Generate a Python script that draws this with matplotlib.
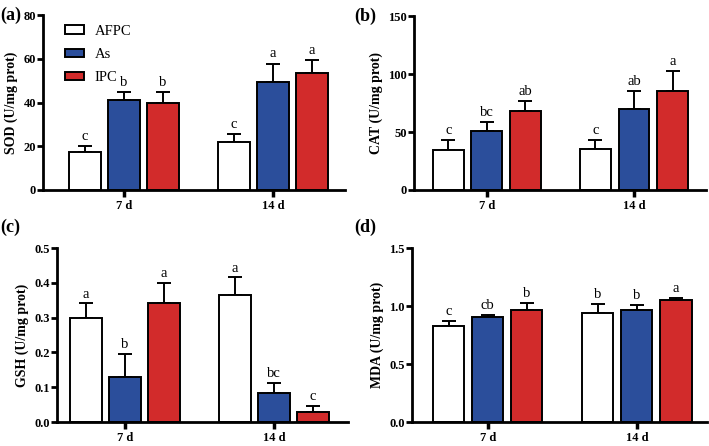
import matplotlib.pyplot as plt
import matplotlib.patches as mpatches
import numpy as np

plt.rcParams['font.family'] = ['Liberation Serif', 'DejaVu Serif']

days = ["7 d", "14 d"]
groups = ["AFPC", "As", "IPC"]
colors = ["white", "#2b4e9b", "#d22b2b"]

# means and upper error (sd) per group, order: 7 d, 14 d
sod = [[17.5, 22.0], [41.1, 49.5], [39.9, 53.6]]
sod_err = [[2.6, 3.7], [3.7, 8.3], [4.9, 5.8]]
sod_let = [["c", "c"], ["b", "a"], ["b", "a"]]

cat = [[34.1, 35.0], [50.8, 70.0], [68.0, 85.7]]
cat_err = [[8.9, 8.0], [8.2, 15.5], [9.1, 17.3]]
cat_let = [["c", "c"], ["bc", "ab"], ["ab", "a"]]

gsh = [[0.300, 0.364], [0.130, 0.082], [0.341, 0.030]]
gsh_err = [[0.041, 0.052], [0.066, 0.030], [0.059, 0.016]]
gsh_let = [["a", "a"], ["b", "bc"], ["a", "c"]]

mda = [[0.830, 0.940], [0.905, 0.966], [0.968, 1.055]]
mda_err = [[0.044, 0.080], [0.020, 0.043], [0.055, 0.014]]
mda_let = [["c", "b"], ["cb", "b"], ["b", "a"]]

panels = [
    ("(a)", sod, sod_err, sod_let, "SOD (U/mg prot)", 80, [0, 20, 40, 60, 80], "%d",
     [0.0607, 0.574, 0.4259, 0.392], (-0.544, 1.483), 1.5),
    ("(b)", cat, cat_err, cat_let, "CAT (U/mg prot)", 150, [0, 50, 100, 150], "%d",
     [0.584, 0.574, 0.412, 0.390], (-0.494, 1.49), 2.5),
    ("(c)", gsh, gsh_err, gsh_let, "GSH (U/mg prot)", 0.5, [0, 0.1, 0.2, 0.3, 0.4, 0.5], "%.1f",
     [0.0804, 0.0538, 0.4106, 0.390], (-0.456, 1.497), 0.008),
    ("(d)", mda, mda_err, mda_let, "MDA (U/mg prot)", 1.5, [0, 0.5, 1.0, 1.5], "%.1f",
     [0.581, 0.0538, 0.416, 0.390], (-0.508, 1.47), 0.025),
]

fig = plt.figure(figsize=(7.09, 4.46), dpi=100)
x = np.arange(len(days))
w = 0.21
off = 0.262

for tag, vals, errs, lets, ylab, ymax, ticks, fmt, rect, xl, pad in panels:
    ax = fig.add_axes(rect)
    for i in range(3):
        xi = x + (i - 1) * off
        ax.bar(xi, vals[i], w, color=colors[i], edgecolor="black", linewidth=1.4, zorder=2)
        ax.errorbar(xi, vals[i], yerr=[np.zeros(2), errs[i]], fmt="none", ecolor="black",
                    elinewidth=1.4, capsize=5, capthick=1.4, zorder=1)
        for j in range(2):
            ax.text(xi[j], vals[i][j] + errs[i][j] + pad, lets[i][j], ha="center", va="bottom",
                    fontsize=10.5)
    ax.set_xlim(*xl)
    ax.set_ylim(0, ymax)
    ax.set_yticks(ticks)
    ax.set_yticklabels([fmt % t for t in ticks], fontweight="bold", fontsize=9)
    ax.set_xticks(x)
    ax.set_xticklabels(days, fontweight="bold", fontsize=9)
    ax.set_ylabel(ylab, fontweight="bold", fontsize=10, labelpad=4)
    for s in ["top", "right"]:
        ax.spines[s].set_visible(False)
    for s in ["left", "bottom"]:
        ax.spines[s].set_linewidth(2)
    ax.tick_params(axis="y", width=2, length=4, pad=1)
    ax.tick_params(axis="x", width=2.5, length=5, pad=2)
    bb = ax.get_position()
    if tag in ("(a)", "(b)"):
        fig.text(bb.x0 - (0.06 if tag == "(a)" else 0.085), bb.y1, tag, fontweight="bold",
                 fontsize=13, va="center", ha="left")
    else:
        fig.text(bb.x0 - (0.08 if tag == "(c)" else 0.082), 0.49, tag, fontweight="bold",
                 fontsize=13, va="center", ha="left")
    if tag == "(a)":
        handles = [mpatches.Patch(facecolor=colors[i], edgecolor="black", linewidth=1.4,
                                  label=groups[i]) for i in range(3)]
        ax.legend(handles=handles, loc="upper left", bbox_to_anchor=(0.03, 1.02), frameon=False,
                  fontsize=10.5, handlelength=1.3, handleheight=0.5, labelspacing=0.7,
                  handletextpad=0.7)

fig.savefig("out.png", dpi=100)
